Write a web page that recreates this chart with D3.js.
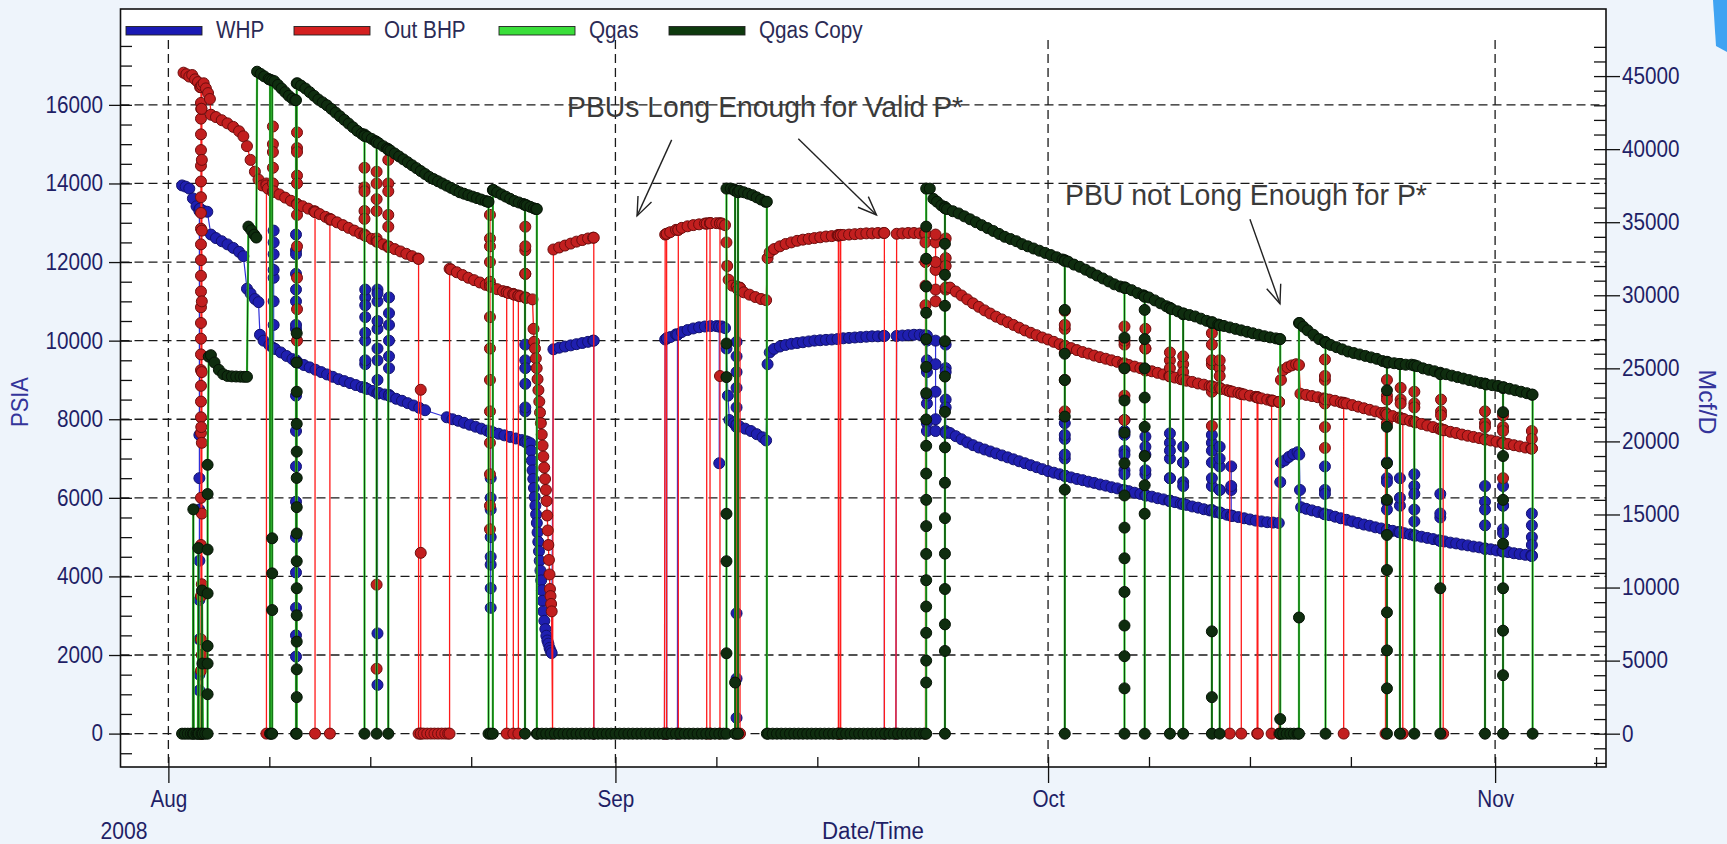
<!DOCTYPE html>
<html><head><meta charset="utf-8">
<script src="https://cdn.jsdelivr.net/npm/d3@7"></script>
<style>
html,body{margin:0;padding:0;background:#eef4fb;}
svg{display:block;}
text{font-family:"Liberation Sans",Arial,sans-serif;}
</style></head><body>
<svg id="chart" width="1727" height="844"></svg>
<script>
// Well test history, Aug - Nov 2008. Times are days since 1 Aug 2008 00:00 (UTC).
const seriesNames = ["WHP", "Out BHP", "Qgas", "Qgas Copy"];
const monthLabels = ["Aug", "Sep", "Oct", "Nov"];
const monthDays = [0, 31, 61, 92];
const weekDays = [7, 14, 21, 38, 45, 52, 68, 75, 82, 99];
const psiaTicks = [0, 2000, 4000, 6000, 8000, 10000, 12000, 14000, 16000];
const rateTicks = [0, 5000, 10000, 15000, 20000, 25000, 30000, 35000, 40000, 45000];

// WHP (psia): main trend readings
const whpTrend = [
 [0.95,13950],[1.2,13920],[1.45,13870],[1.7,13620],[1.95,13420],[2.2,13360],[2.45,13300],[2.7,13280],[2.95,12700],
 [3.3,12610],[3.7,12530],[4.1,12450],[4.5,12360],[4.9,12260],[5.2,12150],[5.45,11320],[5.7,11200],[6.0,11060],[6.25,10980],
 [6.35,10150],[6.6,10000],[7.0,9890],[7.4,9790],[7.8,9700],[8.2,9610],[8.6,9530],[9.0,9440],[9.4,9380],[9.8,9320],[10.2,9260],
 [10.6,9200],[11.0,9140],[11.4,9080],[11.8,9020],[12.2,8970],[12.6,8920],[13.0,8870],[13.4,8820],[13.8,8770],[14.2,8720],
 [14.6,8670],[15.0,8630],[15.4,8580],[15.8,8520],[16.2,8470],[16.6,8410],[17.0,8350],[17.4,8290],[17.8,8230],
 [19.3,8050],[19.7,8000],[20.1,7960],[20.5,7910],[20.9,7860],[21.3,7810],[21.7,7760],[22.1,7710],[22.5,7670],[22.9,7630],
 [23.3,7590],[23.7,7550],[24.1,7510],[24.5,7470],[24.9,7430],[25.1,7390],
 [25.15,7200],[25.2,6950],[25.25,6700],[25.3,6480],[25.35,6250],[25.4,6020],[25.45,5800],[25.5,5580],[25.55,5360],[25.6,5120],
 [25.65,4880],[25.7,4640],[25.75,4400],[25.8,4150],[25.85,3900],[25.9,3650],[25.95,3380],[26.0,3110],[26.07,2870],[26.14,2660],
 [26.21,2490],[26.28,2370],[26.35,2290],[26.43,2180],[26.5,2110],[26.58,2050],
 [26.7,9780],[27.1,9820],[27.5,9850],[27.9,9880],[28.3,9910],[28.7,9940],[29.1,9970],[29.45,10000],
 [34.45,10030],[34.8,10090],[35.2,10160],[35.6,10220],[36.0,10270],[36.4,10310],[36.8,10340],[37.2,10360],[37.6,10370],[38.0,10370],[38.4,10360],[38.6,10320],
 [38.7,9800],[38.8,8600],[38.9,7980],[39.2,7900],[39.6,7820],[40.0,7760],[40.4,7700],[40.8,7620],[41.2,7540],[41.45,7460],
 [41.55,9400],[41.7,9700],[42.0,9790],[42.4,9850],[42.8,9890],[43.2,9920],[43.6,9940],[44.0,9960],[44.4,9980],[44.8,10000],
 [45.2,10010],[45.6,10020],[46.0,10030],[46.4,10040],[46.8,10060],[47.2,10070],[47.6,10080],[48.0,10090],[48.4,10100],[48.8,10110],
 [49.2,10110],[49.6,10120],[50.5,10120],[50.9,10130],[51.3,10140],[51.7,10150],[52.1,10150],[52.45,10140],
 [54.2,7650],[54.6,7570],[55.0,7490],[55.4,7410],[55.8,7340],[56.2,7280],[56.6,7230],[57.0,7180],[57.4,7130],[57.8,7080],
 [58.2,7030],[58.6,6980],[59.0,6930],[59.4,6880],[59.8,6830],[60.2,6780],[60.6,6730],[61.0,6680],[61.4,6640],[61.8,6600],
 [62.2,6560],[62.6,6520],[63.0,6480],[63.4,6450],[63.8,6410],[64.2,6380],[64.6,6340],[65.0,6310],[65.4,6270],[65.8,6240],
 [66.2,6200],[66.6,6170],[67.0,6130],[67.4,6100],[67.8,6060],[68.2,6030],[68.6,5990],[69.0,5960],[69.4,5920],[69.8,5890],
 [70.2,5850],[70.6,5820],[71.0,5780],[71.4,5750],[71.8,5710],[72.2,5680],[72.6,5640],[73.0,5610],[73.4,5570],[73.8,5540],
 [74.2,5510],[74.6,5480],[75.0,5450],[75.4,5420],[75.8,5400],[76.2,5380],[76.6,5370],[77.0,5360],
 [77.1,6400],[77.15,6900],[77.4,6950],[77.7,7040],[78.0,7110],[78.3,7160],[78.42,7100],[78.47,6200],
 [78.55,5760],[78.9,5720],[79.3,5680],[79.7,5640],[80.1,5600],[80.5,5560],[80.9,5520],[81.3,5480],[81.7,5440],[82.1,5400],
 [82.5,5360],[82.9,5320],[83.3,5290],[83.7,5250],[84.1,5220],[84.5,5190],[84.9,5160],[85.3,5130],[85.7,5100],[86.1,5070],
 [86.5,5040],[86.9,5010],[87.3,4980],[87.7,4950],[88.1,4920],[88.5,4890],[88.9,4860],[89.3,4840],[89.7,4810],[90.1,4790],
 [90.5,4760],[90.9,4740],[91.3,4710],[91.7,4690],[92.1,4660],[92.5,4640],[92.9,4620],[93.3,4590],[93.7,4570],[94.1,4550],[94.5,4530]
];
// WHP: rapid readings logged around shut-ins and restarts
const whpEvents = [
 [2.15,[13350,7600,6500,5700,4400,3400,2400,1500,1100,13300]],
 [7.3,[9810,10400,11000,11600,12200,12800,12500,11800,9800]],
 [8.85,[9480,10300,11000,11700,12300,12700,12200,11300,10400,9500,8600,7700,6800,5900,5000,4100,3200,2500,1960,9450]],
 [13.65,[8800,9400,10000,10600,11100,11300,10900,10200,9500,8790]],
 [14.5,[8670,9500,10300,11000,11300,11200,10500,9800,9000,2550,1240,8650]],
 [15.3,[8620,9300,10000,10700,11100,10400,9600,8600]],
 [22.35,[7690,6500,5700,5000,4300,3700,3200,4500,6000,7650]],
 [24.75,[7440,8200,8900,9500,9900,9300,8300,7420]],
 [29.5,[10000,0]],[34.4,[0]],
 [34.56,[10060,0,10060]],[35.3,[10150,0,10150]],
 [38.2,[10360,6880,10360]],
 [39.4,[7870,8800,9600,9970,9200,8300,7800,3060,1400,400,7860]],
 [49.65,[10120,0]],[50.45,[0]],
 [52.6,[10130,9200,8400,7900,7700,8600,9500,10000]],
 [53.2,[10000,9400,8700,8000,7700]],
 [53.9,[7700,8500,9300,9900,9200,8300,7650]],
 [62.16,[6560,7000,7500,7900,7600,7100,6560]],
 [66.3,[6190,6700,7200,7700,7980,7600,7100,6600,6180]],
 [67.75,[6070,6600,7100,7560,7300,6700,6060]],
 [69.45,[5930,6500,7000,7400,7640,7200,6500,5920]],
 [70.37,[5850,6400,6900,7300,6900,6300,5840]],
 [72.36,[5690,6300,6900,7400,7600,7200,6500,5680]],
 [72.9,[5630,6200,6800,7300,7000,6200,5620]],
 [73.7,[5550,6200,6800,6300,5540]],
 [80.2,[5590,6200,6800,6100,5580]],
 [84.5,[5190,5900,6500,6900,6400,5700,5180]],
 [85.4,[5130,5800,6500,6000,5120]],
 [86.4,[5050,5700,6300,6600,6100,5400,5040]],
 [88.2,[4910,5500,6100,5600,4900]],
 [91.3,[4710,5300,5900,6300,5700,4700]],
 [92.55,[4640,5200,5800,6300,5800,5100,4630]],
 [94.55,[4530,5000,5600,5300,4800,4520]]
];

// Out BHP (psia): main trend readings
const bhpTrend = [
 [1.05,16820],[1.25,16780],[1.45,16720],[1.65,16760],[1.85,16650],[2.05,16580],[2.2,16450],
 [2.45,16550],[2.6,16420],[2.75,16300],[2.88,16150],[2.95,15750],
 [3.3,15690],[3.7,15610],[4.1,15530],[4.5,15440],[4.9,15330],[5.2,15200],[5.45,14950],[5.7,14600],[6.0,14300],[6.25,14100],
 [6.5,13950],[6.9,13870],[7.3,13800],[7.7,13720],[8.1,13640],[8.5,13560],[8.9,13480],[9.3,13420],[9.7,13360],[10.1,13290],
 [10.5,13220],[10.9,13150],[11.3,13080],[11.7,13010],[12.1,12940],[12.5,12870],[12.9,12800],[13.3,12730],[13.7,12660],[14.1,12590],
 [14.5,12520],[14.9,12450],[15.3,12390],[15.7,12330],[16.1,12270],[16.5,12210],[16.9,12150],[17.3,12090],
 [17.7,0],[17.95,0],[18.2,0],[18.45,0],[18.7,0],[18.95,0],[19.2,0],[19.4,0],
 [19.6,11810],[20.0,11740],[20.4,11670],[20.8,11600],[21.2,11540],[21.6,11480],[22.0,11420],[22.4,11370],[22.8,11310],[23.2,11260],
 [23.6,11210],[24.0,11170],[24.4,11130],[24.8,11090],[25.25,11050],
 [25.32,10300],[25.36,9970],[25.42,9800],[25.48,9550],[25.54,9300],[25.6,9020],[25.66,8740],[25.72,8450],[25.77,8170],[25.83,7900],
 [25.89,7610],[25.95,7330],[26.0,7050],[26.06,6770],[26.12,6480],[26.18,6200],[26.23,5920],[26.27,5550],[26.31,5170],[26.35,4800],
 [26.39,4420],[26.43,4050],[26.46,3680],[26.5,3500],[26.54,3300],[26.58,3110],
 [26.7,12320],[27.1,12370],[27.5,12420],[27.9,12470],[28.3,12520],[28.7,12560],[29.1,12600],[29.45,12620],
 [34.45,12700],[34.8,12760],[35.2,12820],[35.6,12870],[36.0,12910],[36.4,12940],[36.8,12960],[37.2,12980],[37.6,12990],[38.0,12990],[38.4,12980],[38.6,12940],
 [38.7,12500],[38.75,11900],[38.85,11550],[39.1,11400],[39.5,11300],[39.9,11230],[40.3,11170],[40.7,11110],[41.1,11060],[41.45,11030],
 [41.55,12100],[41.7,12250],[42.0,12330],[42.4,12400],[42.8,12460],[43.2,12500],[43.6,12540],[44.0,12570],[44.4,12590],[44.8,12610],
 [45.2,12630],[45.6,12650],[46.0,12660],[46.4,12680],[46.8,12690],[47.2,12700],[47.6,12710],[48.0,12720],[48.4,12730],[48.8,12730],
 [49.2,12740],[49.6,12740],[50.5,12720],[50.9,12730],[51.3,12740],[51.7,12740],[52.1,12730],[52.45,12720],
 [54.2,11350],[54.6,11250],[55.0,11150],[55.4,11050],[55.8,10950],[56.2,10860],[56.6,10770],[57.0,10690],[57.4,10610],[57.8,10540],
 [58.2,10470],[58.6,10400],[59.0,10330],[59.4,10260],[59.8,10200],[60.2,10140],[60.6,10080],[61.0,10030],[61.4,9970],[61.8,9910],
 [62.2,9860],[62.6,9810],[63.0,9760],[63.4,9710],[63.8,9670],[64.2,9620],[64.6,9580],[65.0,9540],[65.4,9500],[65.8,9460],
 [66.2,9420],[66.6,9380],[67.0,9340],[67.4,9300],[67.8,9260],[68.2,9220],[68.6,9180],[69.0,9140],[69.4,9100],[69.8,9060],
 [70.2,9020],[70.6,8980],[71.0,8950],[71.4,8910],[71.8,8880],[72.2,8840],[72.6,8810],[73.0,8770],[73.4,8740],[73.8,8700],
 [74.2,8670],[74.6,8630],[75.0,8600],[75.4,8570],[75.8,8530],[76.2,8500],[76.6,8470],[77.0,8440],
 [77.15,9000],[77.3,9250],[77.6,9320],[77.9,9370],[78.2,9400],[78.4,9380],[78.5,8650],
 [78.9,8620],[79.3,8590],[79.7,8560],[80.1,8530],[80.5,8500],[80.9,8470],[81.3,8430],[81.7,8400],[82.1,8360],[82.5,8320],
 [82.9,8280],[83.3,8240],[83.7,8200],[84.1,8160],[84.5,8120],[84.9,8080],[85.3,8040],[85.7,8000],[86.1,7960],[86.5,7920],
 [86.9,7880],[87.3,7840],[87.7,7800],[88.1,7760],[88.5,7720],[88.9,7680],[89.3,7650],[89.7,7610],[90.1,7580],[90.5,7550],
 [90.9,7520],[91.3,7490],[91.7,7460],[92.1,7430],[92.5,7400],[92.9,7370],[93.3,7340],[93.7,7310],[94.1,7280],[94.5,7260]
];
// Out BHP: rapid readings and gauge dropouts
const bhpEvents = [
 [2.26,[16450,16050,15650,15250,14850,14450,14050,13650,13250,12850,12450,12050,11650,11250,10850,10450,10050,9650,9250,8850,8450,8050,7650,6000,4800,3500,2400,1600,0]],
 [2.28,[0,7800,15900]],[2.3,[15900,0]],
 [2.32,[0,2000,3800,5600,7400,9200,11000,12800,14600,16500]],
 [6.8,[14000,0,13950]],
 [7.25,[13800,14400,15000,15450,14800,14000,13780]],
 [8.92,[13480,14200,14900,15300,14800,14000,13200,12400,11600,10800,10000,13460]],
 [10.17,[13290,0,13270]],[11.2,[13100,0,13080]],
 [13.6,[12700,13300,13900,14400,13800,13100,12680]],
 [14.44,[12540,13300,14000,14300,13600,12600,3790,1650,12520]],
 [15.25,[12400,13200,14000,14600,13800,12900,12380]],
 [17.35,[12080,0]],[17.5,[0,8750,4600,0]],[19.5,[0,11830]],
 [22.3,[11400,12000,12600,13200,12400,11500,10600,9800,9000,8200,7400,6600,5800,5200,11380]],
 [23.46,[11240,0,11230]],[23.92,[11190,0,11180]],[24.27,[11150,0,11140]],
 [24.75,[11100,11700,12300,12900,12400,11700,11090]],
 [26.64,[0]],
 [29.5,[12620,0]],[34.4,[0]],
 [34.55,[12720,0,12720]],[35.36,[12820,0,12820]],[37.33,[12980,0,12980]],[37.56,[12990,0,12990]],
 [38.25,[12990,9100,0,12980]],[39.41,[11380,0,11370]],[39.64,[11350,0,11340]],
 [46.46,[12680,0,12680]],[46.5,[12680,0,12680]],[46.62,[12690,0,12690]],
 [49.65,[12740,0]],[50.45,[0]],
 [52.5,[12720,0,12500,12000,11400,10900]],
 [53.2,[11000,11800,12500,12700,12000,11300]],
 [53.9,[11300,12100,12600,11900,11350]],
 [62.16,[9860,10300,10760,10400,9700,9000,8200,9850]],
 [66.3,[9420,9900,10360,10000,9300,8600,7980,9400]],
 [67.75,[9250,9800,10300,9800,9240]],
 [69.45,[9100,9500,9700,9300,9090]],
 [70.37,[9020,9400,9600,9200,9010]],
 [72.36,[8840,9400,9900,10190,9500,8700,7830,8830]],
 [72.9,[8800,9300,9500,9100,8790]],
 [73.6,[8720,0,8710]],[74.4,[8650,0,8640]],[75.5,[8560,0,8560]],[75.55,[8555,0,8550]],[76.5,[8480,0,8470]],[77.02,[8440,0,8440]],
 [80.2,[8520,9000,9520,9100,8400,7800,7270,8510]],
 [81.5,[8420,0,8410]],[84.4,[8170,0,8160]],
 [84.5,[8130,8600,9000,8500,7900,8120]],
 [85.45,[8030,8500,8800,8400,8020]],[85.6,[8010,0,8000]],
 [86.4,[7940,8400,8700,8300,7930]],
 [88.25,[7750,8200,8500,8100,7740]],[88.4,[7730,0,7720]],
 [91.3,[7490,7900,8200,7800,7480]],
 [92.55,[7400,7800,8100,7700,6500,7390]],
 [94.55,[7260,7700,7500,7250]]
];

// Qgas (Mcf/D): main trend readings, including shut-in periods at zero rate
const qgasTrend = [
 [0.95,0],[1.15,0],[1.35,0],[1.55,0],[1.7,0],[1.73,15350],[1.76,0],[1.95,0],[2.05,0],[2.08,12700],[2.11,0],[2.3,0],[2.33,9800],[2.36,4800],[2.39,0],[2.55,0],
 [2.8,25800],[2.95,25900],[3.2,25400],[3.5,24900],[3.8,24600],[4.1,24480],[4.4,24450],[4.7,24440],[5.0,24430],[5.25,24420],[5.45,24420],
 [5.55,34700],[5.75,34450],[5.95,34150],[6.1,33950],
 [6.15,45300],[6.4,45150],[6.65,44980],[6.95,44800],
 [7.35,44650],[7.6,44400],[7.85,44150],[8.1,43900],[8.35,43650],[8.6,43450],[8.8,43350],
 [8.95,44500],[9.2,44350],[9.5,44150],[9.8,43900],[10.1,43650],[10.4,43400],[10.7,43200],[11.0,43000],[11.3,42750],[11.6,42500],
 [11.9,42250],[12.2,42000],[12.5,41750],[12.8,41500],[13.1,41250],[13.4,41050],
 [13.8,40850],[14.1,40700],[14.35,40550],[14.6,40400],[14.9,40200],[15.15,40050],
 [15.4,39900],[15.7,39700],[16.0,39500],[16.3,39300],[16.6,39100],[16.9,38900],[17.2,38700],[17.5,38500],[17.8,38300],[18.1,38100],
 [18.4,37950],[18.7,37800],[19.0,37650],[19.3,37500],[19.6,37350],[19.9,37200],[20.2,37050],[20.5,36950],[20.8,36850],[21.1,36750],
 [21.4,36650],[21.7,36550],[22.0,36450],[22.15,36400],
 [22.55,37200],[22.8,37050],[23.1,36900],[23.4,36750],[23.7,36600],[24.0,36450],[24.3,36350],[24.6,36250],
 [24.85,36150],[25.1,36050],[25.35,35950],[25.5,35900],
 [25.6,0],[25.9,0],[26.2,0],[26.5,0],[26.8,0],[27.1,0],[27.4,0],[27.7,0],[28.0,0],[28.3,0],[28.6,0],[28.9,0],[29.2,0],[29.5,0],
 [29.8,0],[30.1,0],[30.4,0],[30.7,0],[31.0,0],[31.3,0],[31.6,0],[31.9,0],[32.2,0],[32.5,0],[32.8,0],[33.1,0],[33.4,0],[33.7,0],
 [34.0,0],[34.3,0],[34.6,0],[34.9,0],[35.2,0],[35.5,0],[35.8,0],[36.1,0],[36.4,0],[36.7,0],[37.0,0],[37.3,0],[37.6,0],[37.9,0],
 [38.2,0],[38.5,0],
 [39.0,37300],[39.2,37250],[39.6,37150],[39.9,37050],[40.2,36950],[40.5,36850],[40.8,36700],[41.1,36550],[41.4,36400],
 [41.6,0],[41.9,0],[42.2,0],[42.5,0],[42.8,0],[43.1,0],[43.4,0],[43.7,0],[44.0,0],[44.3,0],[44.6,0],[44.9,0],[45.2,0],[45.5,0],
 [45.8,0],[46.1,0],[46.4,0],[46.7,0],[47.0,0],[47.3,0],[47.6,0],[47.9,0],[48.2,0],[48.5,0],[48.8,0],[49.1,0],[49.4,0],[49.7,0],
 [50.0,0],[50.3,0],[50.6,0],[50.9,0],[51.2,0],[51.5,0],[51.8,0],[52.1,0],[52.4,0],
 [52.8,37300],[53.05,36600],[53.3,36400],[53.6,36150],
 [54.0,35900],[54.4,35750],[54.8,35600],[55.2,35400],[55.6,35200],[56.0,35000],[56.4,34800],[56.8,34600],[57.2,34400],[57.6,34200],
 [58.0,34000],[58.4,33850],[58.8,33700],[59.2,33500],[59.6,33350],[60.0,33200],[60.4,33050],[60.8,32900],[61.2,32750],[61.6,32600],
 [62.0,32450],[62.4,32300],[62.8,32100],[63.2,31950],[63.6,31750],[64.0,31550],[64.4,31350],[64.8,31150],[65.2,30950],[65.6,30750],
 [66.0,30600],[66.4,30500],[66.8,30350],[67.2,30150],[67.6,30000],[68.0,29850],[68.4,29650],[68.8,29450],[69.2,29250],[69.6,29050],
 [70.0,28900],[70.4,28750],[70.8,28650],[71.2,28550],[71.6,28400],[72.0,28250],[72.4,28150],[72.8,28000],[73.2,27900],[73.6,27800],
 [74.0,27700],[74.4,27600],[74.8,27500],[75.2,27400],[75.6,27300],[76.0,27200],[76.4,27120],[76.8,27050],[77.05,27000],
 [77.3,0],[77.55,0],[77.8,0],[78.05,0],[78.3,0],
 [78.45,28100],[78.7,27850],[79.0,27600],[79.4,27300],[79.8,27000],[80.2,26800],[80.6,26600],[81.0,26450],[81.4,26300],[81.8,26150],
 [82.2,26050],[82.6,25950],[83.0,25850],[83.4,25750],[83.8,25650],[84.2,25500],[84.6,25400],[85.0,25350],[85.4,25300],[85.8,25250],
 [86.2,25250],[86.6,25150],[87.0,25000],[87.4,24900],[87.8,24800],[88.2,24700],[88.6,24600],[89.0,24500],[89.4,24400],[89.8,24300],
 [90.2,24200],[90.6,24100],[91.0,24000],[91.4,23900],[91.8,23850],[92.2,23800],[92.6,23700],[93.0,23600],[93.4,23500],[93.8,23400],
 [94.2,23300],[94.55,23200]
];
// Qgas: shut-ins and rate readings logged while the choke was reopened
const qgasEvents = [
 [2.72,[0,2700,4800,6000,9600,12600,16400,18400]],
 [7.05,[44750,0]],[7.12,[0]],[7.2,[0,8460,10970,13370,44700]],
 [8.85,[43350,0]],
 [8.9,[0,2500,4400,6300,8100,9950,11800,13700,15500,17500,19300,21200,23400,25400,27400,44500]],
 [13.6,[41000,0,40900]],[14.44,[40500,0,40450]],[15.25,[40000,0,39950]],
 [22.2,[36400,0]],[22.35,[0]],[22.5,[0,37200]],
 [24.73,[36200,0,36180]],
 [25.55,[35900,0]],
 [38.7,[0,5500,11800,15050,24400,26700,37300]],
 [39.3,[37200,0,3500,37150]],[39.5,[37100,0,37050]],
 [41.5,[36400,0]],
 [52.55,[0,3500,5000,6900,8700,10500,12300,14200,16000,17800,19700,21500,23300,25100,27000,28800,30600,32500,34700,37300]],
 [53.85,[36050,0,5660,7480,9900,12320,14750,17170,19590,22020,24440,26860,29280,31400,33520,35950]],
 [62.16,[32400,0,16700,21700,24200,26000,29000,32350]],
 [66.3,[30550,0,3100,5300,7400,9700,12000,14100,16300,18500,20600,22800,25000,27100,30500]],
 [67.7,[29950,0,15050,17000,19000,21000,23000,25000,27000,29000,29900]],
 [69.45,[29150,0,29100]],[70.37,[28750,0,28700]],
 [72.36,[28150,0,2500,7000,28100]],[72.9,[27950,0,27950]],
 [77.1,[27000,0,1000,0]],
 [78.4,[0,7950,28100]],
 [80.24,[26800,0,26750]],
 [84.5,[25450,0,3100,5700,8300,11200,13600,16000,18500,21000,23500,25400]],
 [85.4,[25300,0,25300]],[86.4,[25200,0,25200]],
 [88.2,[24650,0,9950,24600]],
 [91.3,[23950,0,23950]],
 [92.55,[23700,0,4000,7050,9950,13000,16000,19000,22000,23650]],
 [94.6,[23200,0]]
];
// The copy channel carries the same rate readings as Qgas
const qgasCopyTrend = qgasTrend;
const qgasCopyEvents = qgasEvents;

// Notes written on the plot: text anchored at [day, psia]; arrows from [day, psia] to [day, psia]
const notes = [
 {text: "PBUs Long Enough for Valid P*", at: [27.65, 15700], width: 396},
 {text: "PBU not Long Enough for P*", at: [62.17, 13455], width: 362}
];
const arrows = [
 {from: [34.9, 15110], to: [32.5, 13175]},
 {from: [43.68, 15140], to: [49.1, 13200]},
 {from: [75.0, 13090], to: [77.08, 10940]}
];

// ---------------- layout and scales ----------------
const P = {left: 120.5, right: 1606, top: 9, bottom: 767};
const DAY0 = Date.UTC(2008, 7, 1);
const toDate = d => new Date(DAY0 + d * 864e5);

const x = d3.scaleUtc().domain([toDate(-3.32), toDate(99.69)]).range([P.left, P.right]);
const yL = d3.scaleLinear().domain([-850, 18440]).range([P.bottom, P.top]);
const yR = d3.scaleLinear().domain([-2280, 49590]).range([P.bottom, P.top]);

const svg = d3.select("#chart");
const INK = "#1f1f66";

// page background and plotting area
svg.append("rect").attr("width", 1727).attr("height", 844).attr("fill", "#eef4fb");
svg.append("path").attr("d", "M1713,0 L1727,0 L1727,52 L1716,46 Z").attr("fill", "#3fa3f2");
svg.append("rect").attr("x", P.left).attr("y", P.top).attr("width", P.right - P.left)
  .attr("height", P.bottom - P.top).attr("fill", "#ffffff");

// grid
const grid = svg.append("g").attr("stroke", "#1a1a1a").attr("stroke-width", 1.3)
  .attr("stroke-dasharray", "9,5").attr("fill", "none");
grid.selectAll("line.h").data(psiaTicks).join("line").attr("class", "h")
  .attr("x1", P.left).attr("x2", P.right).attr("y1", d => yL(d)).attr("y2", d => yL(d));
grid.selectAll("line.v").data(monthDays).join("line").attr("class", "v")
  .attr("x1", d => x(toDate(d))).attr("x2", d => x(toDate(d))).attr("y1", 40).attr("y2", P.bottom);

// ---------------- series ----------------
function build(trend, events) {
  const pts = trend.map((p, i) => ({d: p[0], v: p[1], k: 0, i}));
  let n = 0;
  events.forEach(([d, vals]) => vals.forEach(v => pts.push({d, v, k: 1, i: n++})));
  pts.sort((a, b) => a.d - b.d || a.k - b.k || a.i - b.i);
  return pts;
}

svg.append("defs").append("clipPath").attr("id", "plotclip").append("rect")
  .attr("x", P.left).attr("y", P.top).attr("width", P.right - P.left).attr("height", P.bottom - P.top);
const plotG = svg.append("g").attr("clip-path", "url(#plotclip)");

function drawSeries(pts, y, lineColor, lineWidth, marker) {
  const line = d3.line().x(p => x(toDate(p.d))).y(p => y(p.v));
  plotG.append("path").datum(pts).attr("d", line).attr("fill", "none")
    .attr("stroke", lineColor).attr("stroke-width", lineWidth).attr("stroke-linejoin", "round");
  if (marker) {
    plotG.append("g").selectAll("circle").data(pts).join("circle")
      .attr("cx", p => x(toDate(p.d))).attr("cy", p => y(p.v)).attr("r", marker.r)
      .attr("fill", marker.fill).attr("stroke", marker.stroke).attr("stroke-width", 1);
  }
}

const whp = build(whpTrend, whpEvents);
const bhp = build(bhpTrend, bhpEvents);
const qgas = build(qgasTrend, qgasEvents);
const qgasCopy = build(qgasCopyTrend, qgasCopyEvents);

drawSeries(whp, yL, "#3030d8", 1.2, {r: 5.5, fill: "#1f1fb0", stroke: "#12126e"});
drawSeries(bhp, yL, "#ff1a1a", 1.3, {r: 5.5, fill: "#c21f1f", stroke: "#6e0d0d"});
drawSeries(qgas, yR, "#33d633", 2.2, null);
drawSeries(qgasCopy, yR, "#0f4a0f", 1.0, {r: 5.5, fill: "#0f2d0f", stroke: "#061406"});

// ---------------- axes ----------------
function condense(sel, f) {
  sel.each(function () {
    const w = this.getComputedTextLength();
    d3.select(this).attr("textLength", w * f).attr("lengthAdjust", "spacingAndGlyphs");
  });
}
function styleAxis(g) {
  g.select(".domain").remove();
  g.selectAll("line").attr("stroke", "#111").attr("stroke-width", 1.3);
  g.selectAll("text").attr("fill", INK).attr("font-size", 23)
    .attr("font-family", "'Liberation Sans', Arial, sans-serif");
}
const psiaMinor = d3.range(-500, 18000, 500).filter(v => v % 2000 !== 0);
const rateMinor = d3.range(-2000, 48000, 1000).filter(v => v % 5000 !== 0);

// left (psia)
const gLout = svg.append("g").attr("transform", `translate(${P.left},0)`)
  .call(d3.axisLeft(yL).tickValues(psiaTicks).tickSize(11.5).tickPadding(6).tickFormat(d3.format("d")));
styleAxis(gLout);
const gLin = svg.append("g").attr("transform", `translate(${P.left},0)`)
  .call(d3.axisLeft(yL).tickValues(psiaTicks.concat(psiaMinor)).tickSize(-11.5).tickFormat(""));
styleAxis(gLin);

// right (Mcf/D)
const gRout = svg.append("g").attr("transform", `translate(${P.right},0)`)
  .call(d3.axisRight(yR).tickValues(rateTicks).tickSize(14).tickPadding(2).tickFormat(d3.format("d")));
styleAxis(gRout);
const gRin = svg.append("g").attr("transform", `translate(${P.right},0)`)
  .call(d3.axisRight(yR).tickValues(rateTicks.concat(rateMinor)).tickSize(-12).tickFormat(""));
styleAxis(gRin);

// bottom (date)
const gBout = svg.append("g").attr("transform", `translate(0,${P.bottom})`)
  .call(d3.axisBottom(x).tickValues(monthDays.map(toDate)).tickSize(16).tickPadding(8)
    .tickFormat((d, i) => monthLabels[i]));
styleAxis(gBout);
const gBin = svg.append("g").attr("transform", `translate(0,${P.bottom})`)
  .call(d3.axisBottom(x).tickValues(monthDays.concat(weekDays).map(toDate)).tickSize(-10).tickFormat(""));
styleAxis(gBin);

[gLout, gRout, gBout].forEach(g => condense(g.selectAll("text"), 0.9));

// axis titles
svg.append("text").attr("transform", "translate(28,402) rotate(-90)").attr("text-anchor", "middle")
  .attr("font-size", 23).attr("fill", "#34349a").attr("textLength", 50).attr("lengthAdjust", "spacingAndGlyphs")
  .text("PSIA");
svg.append("text").attr("transform", "translate(1699,402) rotate(90)").attr("text-anchor", "middle")
  .attr("font-size", 23).attr("fill", "#34349a").attr("textLength", 65).attr("lengthAdjust", "spacingAndGlyphs")
  .text("Mcf/D");
svg.append("text").attr("x", 873).attr("y", 839).attr("text-anchor", "middle")
  .attr("font-size", 23).attr("fill", INK).attr("textLength", 102).attr("lengthAdjust", "spacingAndGlyphs")
  .text("Date/Time");
svg.append("text").attr("x", 124).attr("y", 839).attr("text-anchor", "middle")
  .attr("font-size", 23).attr("fill", INK).attr("textLength", 47).attr("lengthAdjust", "spacingAndGlyphs")
  .text("2008");

// frame
svg.append("rect").attr("x", P.left).attr("y", P.top).attr("width", P.right - P.left)
  .attr("height", P.bottom - P.top).attr("fill", "none").attr("stroke", "#111").attr("stroke-width", 1.6);

// ---------------- legend ----------------
const legendColors = ["#1a1ab4", "#d42020", "#3ade3a", "#0e3a0e"];
const legendX = [126, 294, 499, 669];
const legend = svg.append("g");
seriesNames.forEach((name, i) => {
  legend.append("rect").attr("x", legendX[i]).attr("y", 26.5).attr("width", 76).attr("height", 8.5)
    .attr("fill", legendColors[i]).attr("stroke", "#222").attr("stroke-width", 0.9);
  legend.append("text").attr("x", legendX[i] + 90).attr("y", 37.5).attr("font-size", 23)
    .attr("fill", "#2b2b55").text(name);
});
condense(legend.selectAll("text"), 0.9);

// ---------------- notes ----------------
const noteG = svg.append("g");
notes.forEach(n => {
  noteG.append("text").attr("x", x(toDate(n.at[0]))).attr("y", yL(n.at[1]))
    .attr("font-size", 30).attr("fill", "#3a3a3a")
    .attr("textLength", n.width).attr("lengthAdjust", "spacingAndGlyphs").text(n.text);
});
arrows.forEach(a => {
  const x1 = x(toDate(a.from[0])), y1 = yL(a.from[1]);
  const x2 = x(toDate(a.to[0])), y2 = yL(a.to[1]);
  const ang = Math.atan2(y2 - y1, x2 - x1), L = 20, spread = 0.38;
  noteG.append("line").attr("x1", x1).attr("y1", y1).attr("x2", x2).attr("y2", y2)
    .attr("stroke", "#222").attr("stroke-width", 1.4);
  noteG.append("path")
    .attr("d", `M${x2 - L * Math.cos(ang - spread)},${y2 - L * Math.sin(ang - spread)} L${x2},${y2} L${x2 - L * Math.cos(ang + spread)},${y2 - L * Math.sin(ang + spread)}`)
    .attr("fill", "none").attr("stroke", "#222").attr("stroke-width", 1.4);
});
</script>
</body></html>
